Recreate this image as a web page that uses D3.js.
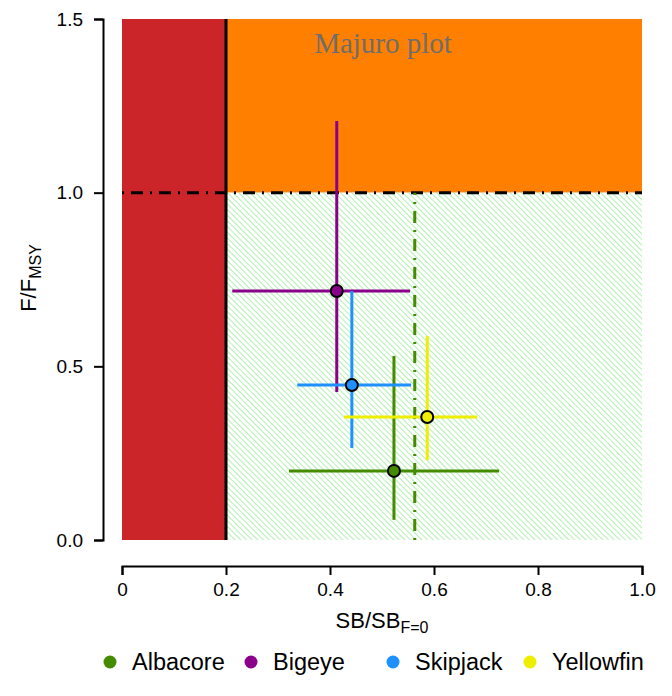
<!DOCTYPE html>
<html>
<head>
<meta charset="utf-8">
<script src="https://cdn.jsdelivr.net/npm/d3@7"></script>
<style>
  body { margin: 0; background: #fff; }
  text { font-family: "Liberation Sans", Arial, sans-serif; }
</style>
</head>
<body>
<div id="chart"></div>
<script>
// species estimates: median and ranges of SB/SB_F=0 and F/F_MSY
const species = ['Albacore', 'Bigeye', 'Skipjack', 'Yellowfin'];
const colours = ['#458B00', '#8B008B', '#1E90FF', '#EEEE00'];
const sbMid = [0.523, 0.413, 0.442, 0.587];
const sbLow = [0.321, 0.212, 0.337, 0.427];
const sbHigh = [0.725, 0.554, 0.556, 0.683];
const fMid = [0.199, 0.717, 0.446, 0.354];
const fLow = [0.058, 0.426, 0.265, 0.23];
const fHigh = [0.53, 1.206, 0.717, 0.587];
const limitRefPoint = 0.2;
const targetSB = 0.563;
const xTicks = [0, 0.2, 0.4, 0.6, 0.8, 1.0];
const yTicks = [0, 0.5, 1.0, 1.5];

const width = 672, height = 696;
const svg = d3.select('#chart').append('svg').attr('width', width).attr('height', height);

const x = d3.scaleLinear().domain([0, 1]).range([122, 642]);
const y = d3.scaleLinear().domain([0, 1.5]).range([540, 19]);

const defs = svg.append('defs');
const pat = defs.append('pattern')
  .attr('id', 'hatch')
  .attr('patternUnits', 'userSpaceOnUse')
  .attr('width', 4).attr('height', 4)
  .attr('patternTransform', 'rotate(-45)');
pat.append('rect').attr('width', 4).attr('height', 4).attr('fill', '#ffffff');
pat.append('line').attr('x1', 0).attr('y1', 0).attr('x2', 0).attr('y2', 4)
  .attr('stroke', '#b2f0b2').attr('stroke-width', 2);

// zones
svg.append('rect')
  .attr('x', x(0)).attr('y', y(1.5))
  .attr('width', x(limitRefPoint) - x(0)).attr('height', y(0) - y(1.5))
  .attr('fill', '#CC2529');
svg.append('rect')
  .attr('x', x(limitRefPoint)).attr('y', y(1.5))
  .attr('width', x(1) - x(limitRefPoint)).attr('height', y(1) - y(1.5))
  .attr('fill', '#FF7F00');
svg.append('rect')
  .attr('x', x(limitRefPoint)).attr('y', y(1))
  .attr('width', x(1) - x(limitRefPoint)).attr('height', y(0) - y(1))
  .attr('fill', 'url(#hatch)');

// reference lines
svg.append('line')
  .attr('x1', x(limitRefPoint)).attr('x2', x(limitRefPoint))
  .attr('y1', y(0)).attr('y2', y(1.5))
  .attr('stroke', '#000').attr('stroke-width', 3);
svg.append('line')
  .attr('x1', x(0)).attr('x2', x(1))
  .attr('y1', y(1)).attr('y2', y(1))
  .attr('stroke', '#000').attr('stroke-width', 3)
  .attr('stroke-dasharray', '2,7,12,7');
svg.append('line')
  .attr('x1', x(targetSB)).attr('x2', x(targetSB))
  .attr('y1', y(0)).attr('y2', y(1))
  .attr('stroke', '#458B00').attr('stroke-width', 3)
  .attr('stroke-dasharray', '2,7,12,7');

svg.append('text')
  .attr('x', 383).attr('y', 53)
  .attr('text-anchor', 'middle')
  .style('font-family', '"Liberation Serif", "DejaVu Serif", serif')
  .style('font-size', '29px')
  .attr('fill', '#6e6e6e')
  .text('Majuro plot');

// error bars and points
const g = svg.append('g');
species.forEach((s, i) => {
  g.append('line')
    .attr('x1', x(sbLow[i])).attr('x2', x(sbHigh[i]))
    .attr('y1', y(fMid[i])).attr('y2', y(fMid[i]))
    .attr('stroke', colours[i]).attr('stroke-width', 3);
  g.append('line')
    .attr('x1', x(sbMid[i])).attr('x2', x(sbMid[i]))
    .attr('y1', y(fLow[i])).attr('y2', y(fHigh[i]))
    .attr('stroke', colours[i]).attr('stroke-width', 3);
});
species.forEach((s, i) => {
  g.append('circle')
    .attr('cx', x(sbMid[i])).attr('cy', y(fMid[i])).attr('r', 6)
    .attr('fill', colours[i]).attr('stroke', '#000').attr('stroke-width', 2);
});

// axes
const xAxis = svg.append('g')
  .attr('transform', 'translate(0,566)')
  .call(d3.axisBottom(x).tickValues(xTicks).tickSize(9).tickPadding(8)
    .tickFormat(d => d === 0 ? '0' : d3.format('.1f')(d)));
const yAxis = svg.append('g')
  .attr('transform', 'translate(103,0)')
  .call(d3.axisLeft(y).tickValues(yTicks).tickSize(9).tickPadding(11)
    .tickFormat(d3.format('.1f')));
[xAxis, yAxis].forEach(a => {
  a.select('.domain').attr('stroke-width', 2);
  a.selectAll('.tick line').attr('stroke-width', 2);
  a.selectAll('.tick text').style('font-size', '19px').attr('fill', '#000')
    .style('font-family', '"Liberation Sans", Arial, sans-serif');
});

// axis titles
const xl = svg.append('text').attr('x', 382).attr('y', 628)
  .attr('text-anchor', 'middle').style('font-size', '22px');
xl.append('tspan').text('SB/SB');
xl.append('tspan').attr('dy', 5).style('font-size', '16px').text('F=0');

const yl = svg.append('text')
  .attr('transform', 'translate(36,278) rotate(-90)')
  .attr('text-anchor', 'middle').style('font-size', '22px');
yl.append('tspan').text('F/F');
yl.append('tspan').attr('dy', 5).style('font-size', '16px').text('MSY');

// legend
const legendX = [110, 251, 393, 530];
const legend = svg.append('g');
species.forEach((s, i) => {
  legend.append('circle').attr('cx', legendX[i]).attr('cy', 662).attr('r', 6.5)
    .attr('fill', colours[i]);
  legend.append('text').attr('x', legendX[i] + 22).attr('y', 670)
    .style('font-size', '23.5px').text(s);
});
</script>
</body>
</html>
